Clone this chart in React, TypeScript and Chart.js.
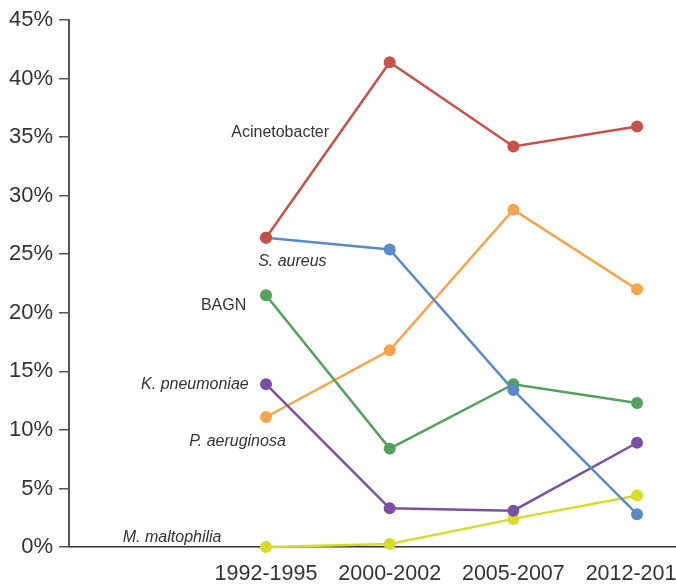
import React, { useEffect, useRef } from "react";
import { Chart, registerables } from "chart.js";

Chart.register(...registerables);

const categories = ["1992-1995", "2000-2002", "2005-2007", "2012-2015"];
const seriesNames = ["Acinetobacter", "S. aureus", "BAGN", "K. pneumoniae", "P. aeruginosa", "M. maltophilia"];
const acinetobacter = [26.4, 41.4, 34.2, 35.9];
const sAureus = [26.4, 25.4, 13.4, 2.8];
const bagn = [21.5, 8.4, 13.9, 12.3];
const kPneumoniae = [13.9, 3.3, 3.1, 8.9];
const pAeruginosa = [11.1, 16.8, 28.8, 22.0];
const mMaltophilia = [0, 0.25, 2.4, 4.4];
const yTicks = [0, 5, 10, 15, 20, 25, 30, 35, 40, 45];

const seriesValues = [acinetobacter, sAureus, bagn, kPneumoniae, pAeruginosa, mMaltophilia];
const seriesColors = ["#c8514a", "#5a8bc8", "#52a15d", "#7b51a4", "#f8a44a", "#d7dc2b"];
const labelItalic = [false, true, false, true, true, true];
// label anchors (right edge x in category units, y centre in % units)
const labelAnchorX = [0.51, 0.49, -0.16, -0.14, 0.16, -0.36];
const labelAnchorY = [35.4, 24.4, 20.6, 13.9, 9.0, 0.8];

const FONT = "'Helvetica Neue', Helvetica, Arial, 'Liberation Sans', sans-serif";

const labelPlugin = {
  id: "seriesLabels",
  afterDatasetsDraw(chart: any) {
    const ctx = chart.ctx;
    const xs = chart.scales.x;
    const ys = chart.scales.y;
    ctx.save();
    ctx.fillStyle = "#333";
    ctx.textAlign = "right";
    ctx.textBaseline = "middle";
    seriesNames.forEach((name, i) => {
      ctx.font = `${labelItalic[i] ? "italic " : ""}16px ${FONT}`;
      ctx.fillText(name, xs.getPixelForValue(labelAnchorX[i]), ys.getPixelForValue(labelAnchorY[i]));
    });
    ctx.restore();
  },
};

export default function App() {
  const ref = useRef<HTMLCanvasElement>(null);
  useEffect(() => {
    document.body.style.margin = "0";
    const chart = new Chart(ref.current!, {
      type: "line",
      data: {
        datasets: seriesNames.map((name, i) => ({
          label: name,
          data: seriesValues[i].map((v, j) => ({ x: j, y: v })),
          borderColor: seriesColors[i],
          backgroundColor: seriesColors[i],
          pointBackgroundColor: seriesColors[i],
          pointBorderWidth: 0,
          pointRadius: 6,
          borderWidth: 2.5,
          tension: 0,
          clip: false as any,
        })),
      },
      options: {
        animation: false,
        responsive: false,
        devicePixelRatio: 1,
        layout: { padding: { top: 20, right: 44, left: 0, bottom: 0 } },
        plugins: { legend: { display: false }, tooltip: { enabled: false } },
        scales: {
          x: {
            type: "linear",
            min: -1.593,
            max: 3.315,
            afterBuildTicks: (scale: any) => {
              scale.ticks = categories.map((_, i) => ({ value: i }));
            },
            afterFit: (scale: any) => {
              scale.height = 38;
            },
            grid: { display: false, drawTicks: false },
            border: { display: true, color: "#333", width: 1.5 },
            ticks: {
              autoSkip: false,
              maxRotation: 0,
              padding: 14,
              color: "#333",
              font: { size: 21.5, family: FONT },
              callback: (v: any) => categories[v] ?? "",
            },
          },
          y: {
            type: "linear",
            min: 0,
            max: 45,
            afterBuildTicks: (scale: any) => {
              scale.ticks = yTicks.map((v) => ({ value: v }));
            },
            afterFit: (scale: any) => {
              scale.width = 69;
            },
            grid: { drawOnChartArea: false, drawTicks: true, tickLength: 10, color: "#555", lineWidth: 1.5 },
            border: { display: true, color: "#555", width: 2 },
            ticks: {
              padding: 6,
              color: "#333",
              font: { size: 22, family: FONT },
              callback: (v: any) => `${v}%`,
            },
          },
        },
      },
      plugins: [labelPlugin],
    });
    return () => chart.destroy();
  }, []);
  return (
    <div style={{ position: "fixed", left: 0, top: 0, width: 676, height: 585, overflow: "hidden", background: "#fff" }}>
      <canvas ref={ref} width={720} height={585} style={{ width: 720, height: 585, display: "block" }} />
    </div>
  );
}
